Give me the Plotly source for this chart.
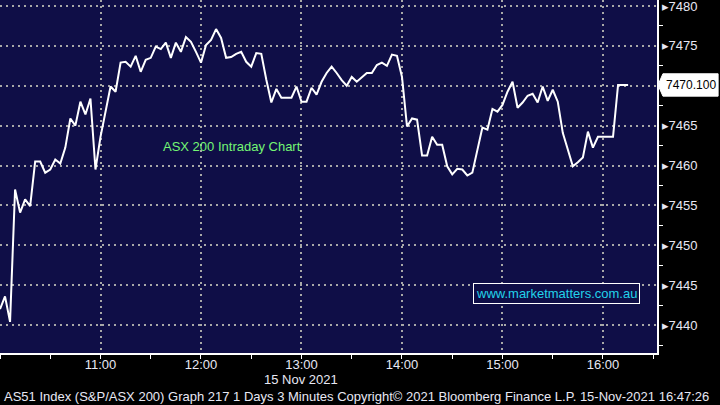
import plotly.graph_objects as go
import pandas as pd

# ---- data (3-minute bars, 15 Nov 2021) ----
start_time = "2021-11-15 10:00"
bar_minutes = 3
values = [
    7442.0, 7443.6, 7440.4, 7457.0, 7454.1, 7455.75, 7454.9, 7460.5, 7460.5, 7459.1,
    7459.5, 7460.75, 7460.25, 7462.25, 7465.9, 7465.0, 7468.0, 7466.4, 7468.4, 7459.5,
    7463.6, 7467.0, 7469.9, 7469.25, 7472.9, 7473.0, 7472.4, 7473.75, 7471.75, 7473.25,
    7473.5, 7474.9, 7474.6, 7475.4, 7473.5, 7475.4, 7474.25, 7476.1, 7475.5, 7474.25,
    7472.9, 7475.1, 7475.75, 7477.1, 7476.0, 7473.5, 7473.6, 7474.0, 7474.25, 7473.0,
    7472.4, 7474.1, 7474.0, 7470.75, 7467.9, 7469.6, 7468.5, 7468.5, 7468.5, 7469.9,
    7468.0, 7468.0, 7469.75, 7468.9, 7470.5, 7471.6, 7472.4, 7471.6, 7470.7, 7470.0,
    7471.1, 7470.5, 7471.1, 7471.6, 7471.6, 7472.6, 7472.9, 7472.5, 7473.9, 7473.75,
    7471.1, 7464.9, 7465.9, 7465.75, 7461.25, 7461.25, 7463.6, 7462.6, 7462.6, 7459.9,
    7458.9, 7459.6, 7459.5, 7458.75, 7459.1, 7461.75, 7464.75, 7464.5, 7467.1, 7466.75,
    7467.6, 7469.25, 7470.5, 7467.25, 7467.9, 7468.75, 7469.0, 7467.9, 7469.9, 7468.1,
    7469.5, 7468.0, 7464.1, 7462.0, 7459.9, 7460.4, 7461.0, 7464.25, 7462.25, 7463.6,
    7463.6, 7463.6, 7463.6, 7470.1, 7470.1, 7470.1,
]
times = pd.date_range(start_time, periods=len(values), freq=f"{bar_minutes}min")

hour_ticks = ["2021-11-15 10:00", "2021-11-15 11:00", "2021-11-15 12:00", "2021-11-15 13:00",
              "2021-11-15 14:00", "2021-11-15 15:00", "2021-11-15 16:00"]
hour_labels = ["", "11:00", "12:00", "13:00", "14:00", "15:00", "16:00"]
half_ticks = ["2021-11-15 10:30", "2021-11-15 11:30", "2021-11-15 12:30", "2021-11-15 13:30",
              "2021-11-15 14:30", "2021-11-15 15:30", "2021-11-15 16:30"]
y_ticks = [7440, 7445, 7450, 7455, 7460, 7465, 7470, 7475, 7480]
y_minor = [7437.5, 7442.5, 7447.5, 7452.5, 7457.5, 7462.5, 7467.5, 7472.5, 7477.5]
x_range = ["2021-11-15 10:00", "2021-11-15 16:32:15"]
y_range = [7436.5, 7480.75]

date_label = "15 Nov 2021"
chart_title = "ASX 200 Intraday Chart"
watermark = "www.marketmatters.com.au"
footer = "AS51 Index (S&P/ASX 200) Graph 217 1 Days 3 Minutes Copyright© 2021 Bloomberg Finance L.P. 15-Nov-2021 16:47:26"

NAVY = "#0f0e47"
GRID = "#a8a8a8"
TXT = "#e8e8f4"
FONT = "Liberation Sans"

last_val = values[-1]

fig = go.Figure()
fig.add_trace(go.Scatter(x=times, y=values, mode="lines",
                         line=dict(color="white", width=2), hoverinfo="skip"))

fig.update_layout(
    width=720, height=405,
    margin=dict(l=0, r=63, t=0, b=52, autoexpand=False),
    paper_bgcolor="black", plot_bgcolor=NAVY,
    showlegend=False,
    font=dict(family=FONT, color=TXT, size=13),
)
fig.update_xaxes(
    type="date", range=x_range, automargin=False,
    tickmode="array", tickvals=hour_ticks, ticktext=hour_labels,
    showgrid=True, gridcolor=GRID, gridwidth=2, griddash="2px,4px",
    showline=True, linecolor="white", linewidth=2,
    ticks="outside", ticklen=4, tickcolor="white", tickwidth=1,
    ticklabelstandoff=-6,
    tickfont=dict(family=FONT, size=13, color=TXT),
    minor=dict(tickmode="array", tickvals=half_ticks, ticks="outside", ticklen=4,
               tickcolor="white", tickwidth=1, showgrid=False),
    zeroline=False, fixedrange=True, ticklabeloverflow="allow",
)
# the 7470 label sits under the last-value tag, as in the original
y_labels = ["" if abs(v - last_val) < 1.5 else "▸" + str(v) for v in y_ticks]
fig.update_yaxes(
    side="right", range=y_range, automargin=False,
    tickmode="array", tickvals=y_ticks, ticktext=y_labels,
    showgrid=True, gridcolor=GRID, gridwidth=2, griddash="2px,4px",
    showline=True, linecolor="white", linewidth=2,
    ticks="", tickfont=dict(family=FONT, size=13, color=TXT),
    minor=dict(tickmode="array", tickvals=y_minor, ticks="outside", ticklen=4,
               tickcolor="white", tickwidth=1, showgrid=False),
    zeroline=False, fixedrange=True, ticklabeloverflow="allow",
)

# last-value tag
fig.add_shape(type="path", xref="paper", yref="y",
              path=f"M 1.0015 {last_val} L 1.009 {last_val + 1.4} L 1.093 {last_val + 1.4} "
                   f"L 1.093 {last_val - 1.4} L 1.009 {last_val - 1.4} Z",
              fillcolor="white", line=dict(color="white", width=1), layer="above")
fig.add_annotation(xref="paper", yref="y", x=1.011, y=last_val, xanchor="left", yanchor="middle",
                   text=f"{last_val:.3f}", showarrow=False,
                   font=dict(family=FONT, size=12, color="black"))

fig.add_annotation(xref="x", yref="y", x="2021-11-15 12:18:30", y=7462.4,
                   text=chart_title, showarrow=False,
                   font=dict(family=FONT, size=13, color="#74f574"))
fig.add_annotation(xref="x", yref="y", x="2021-11-15 15:32:30", y=7443.9,
                   text=watermark, showarrow=False, bgcolor=NAVY,
                   bordercolor="white", borderwidth=1, borderpad=2,
                   font=dict(family=FONT, size=13, color="#22d3ea"))
fig.add_annotation(xref="x", yref="paper", x="2021-11-15 13:00", y=-0.074,
                   yanchor="middle", text=date_label, showarrow=False,
                   font=dict(family=FONT, size=13, color=TXT))
fig.add_annotation(xref="paper", yref="paper", x=0.003, y=-0.122, xanchor="left",
                   yanchor="middle", text=footer, showarrow=False,
                   font=dict(family=FONT, size=13, color=TXT))

fig.write_html("out.html", config={"displayModeBar": False},
               post_script="document.body.style.margin='0';")
